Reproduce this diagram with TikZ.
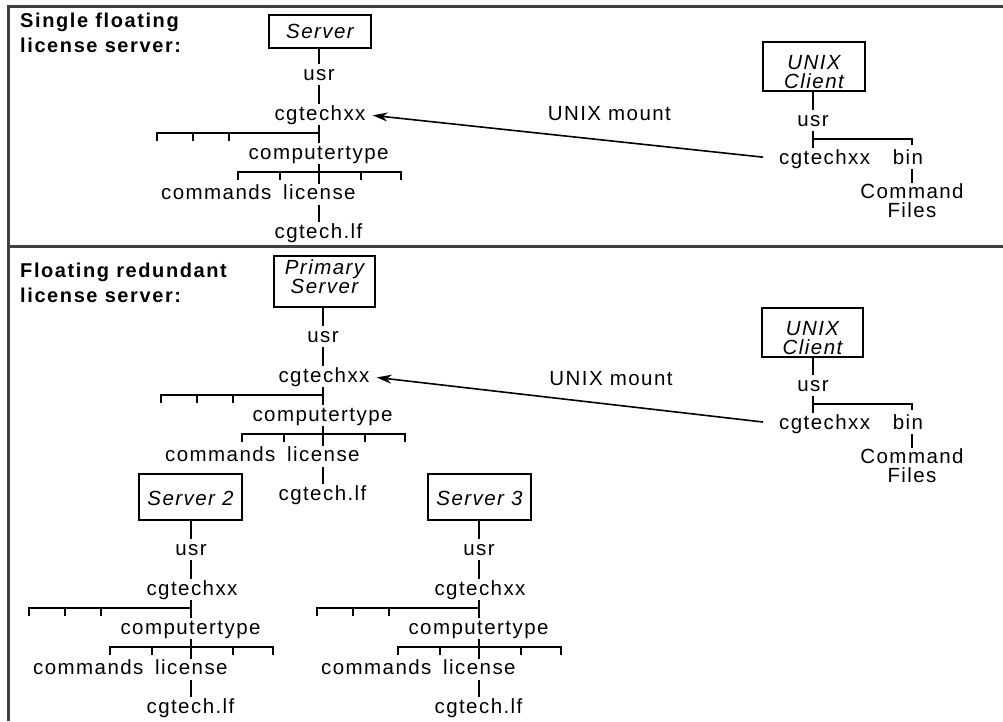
\documentclass[tikz,border=0pt]{standalone}
\usepackage{fontspec}
\usetikzlibrary{arrows.meta}
\newfontfamily\dgfont[LetterSpace=7]{Liberation Sans}
\newfontfamily\dghead[LetterSpace=8]{Liberation Sans}
\newcommand\dgsz{\fontsize{20.5}{19}\selectfont}

\tikzset{
  txt/.style={font=\dgfont\dgsz, inner sep=1pt, text height=14.5pt, text depth=4pt},
  mtxt/.style={font=\dgfont\dgsz, inner sep=1pt, align=center},
  bx/.style={draw, line width=2pt, font=\dgfont\itshape\dgsz, align=center, inner sep=0pt},
  ln/.style={line width=1.6pt},
  frm/.style={line width=2.6pt, black!75},
  mount/.style={line width=1.6pt, -{Stealth[length=15pt,width=9pt]}, shorten <=15pt, shorten >=6pt},
  ttl/.style={font=\dghead\bfseries\fontsize{20}{25.5}\selectfont, align=left, anchor=north west, inner sep=0pt},
}

% server tree: #1 prefix, #2 column x, #3 y offset, #4 box node
\newcommand\stree[4]{%
  \node[txt, anchor=base] (#1usr) at ({#2},{80+#3}) {usr};
  \node[txt, anchor=base] (#1cgx) at ({#2+1},{120+#3}) {cgtechxx};
  \node[txt, anchor=base] (#1ct) at ({#2-0.5},{159+#3}) {computertype};
  \node[txt, anchor=base west] (#1lic) at ({#2-37},{199.5+#3}) {license};
  \node[txt, anchor=base west] (#1cmd) at ({#2-159},{199.5+#3}) {commands};
  \node[txt, anchor=base] (#1lf) at ({#2-0.5},{238+#3}) {cgtech.lf};
  \coordinate (#1b1) at ({#2},{133+#3});
  \coordinate (#1b2) at ({#2},{172+#3});
  \draw[ln] (#1usr.north |- #4.south) -- (#1usr.north);
  \draw[ln] (#1usr.south) -- (#1usr.south |- #1cgx.north);
  \draw[ln] (#1usr.south |- #1cgx.south) -- (#1usr.south |- #1ct.north);
  \draw[ln] (#1b1) -- ++(-162,0) -- ++(0,8);
  \draw[ln] (#1b1) ++(-126,0) -- ++(0,8);
  \draw[ln] (#1b1) ++(-90,0) -- ++(0,8);
  \draw[ln] (#1b2) ++(-81,8) -- ++(0,-8) -- ++(163,0) -- ++(0,8);
  \draw[ln] (#1b2) ++(-39,0) -- ++(0,8);
  \draw[ln] (#1b2) ++(42,0) -- ++(0,8);
  \draw[ln] (#1usr.south |- #1ct.south) -- (#1usr.south |- #1lic.north);
  \draw[ln] (#1usr.south |- #1lic.south) -- (#1usr.south |- #1lf.north);
}

% client tree
\newcommand\ctree[4]{%
  \node[txt, anchor=base] (#1usr) at ({#2},{126+#3}) {usr};
  \node[txt, anchor=base west] (#1cgx) at ({#2-35},{164+#3}) {cgtechxx};
  \node[txt, anchor=base] (#1bin) at ({#2+95},{164+#3}) {bin};
  \node[mtxt, anchor=north] (#1cf) at ({#2+99},{182.5+#3}) {Command\\Files};
  \coordinate (#1b) at ({#2},{139+#3});
  \draw[ln] (#1usr.north |- #4.south) -- (#1usr.north);
  \draw[ln] (#1usr.south) -- (#1usr.south |- #1cgx.north);
  \draw[ln] (#1b) -- (#1b -| #1cf.north) -- ++(0,6);
  \draw[ln] (#1cf.north |- #1bin.south) -- (#1cf.north);
}

\begin{document}
\begin{tikzpicture}[x=1pt, y=-1pt]
\useasboundingbox (0,0) rectangle (1003,721);

% frame
\draw[frm] (1003,6.5) -- (8.5,6.5) -- (8.5,721);
\draw[frm] (8.5,246.5) -- (1003,246.5);

% titles
\node[ttl] (t1) at (20,12.5) {Single floating\\license server:};
\node[ttl] (t2) at (20,262.5) {Floating redundant\\license server:};

% boxes
\node[bx, minimum width=102pt, minimum height=33pt, text height=13pt, text depth=0pt] (srv1) at (320,31.5) {Server};
\node[bx, minimum width=102pt, minimum height=49pt, text height=43pt, text depth=0pt] (ucl1) at (814,66.5) {UNIX\\Client};
\node[bx, minimum width=101pt, minimum height=51pt, text height=35pt, text depth=12pt] (prim) at (324.5,281.5) {Primary\\Server};
\node[bx, minimum width=101pt, minimum height=49pt, text height=43pt, text depth=0pt] (ucl2) at (812.5,332.5) {UNIX\\Client};
\node[bx, minimum width=103pt, minimum height=46pt, text height=16pt, text depth=0pt] (srv2) at (190.5,497) {Server 2};
\node[bx, minimum width=103pt, minimum height=46pt, text height=16pt, text depth=0pt] (srv3) at (479.5,497) {Server 3};

% trees
\stree{s1}{319}{0}{srv1}
\stree{p}{323}{262}{prim}
\stree{s2}{191}{475}{srv2}
\stree{s3}{479}{475}{srv3}
\ctree{c1}{813}{0}{ucl1}
\ctree{c2}{813}{265}{ucl2}

% mounts
\draw[mount] (c1cgx.west) -- node[txt, pos=.41, yshift=25pt] (m1) {UNIX mount} (s1cgx.east);
\draw[mount] (c2cgx.west) -- node[txt, pos=.41, yshift=24pt] (m2) {UNIX mount} (pcgx.east);
\end{tikzpicture}
\end{document}
